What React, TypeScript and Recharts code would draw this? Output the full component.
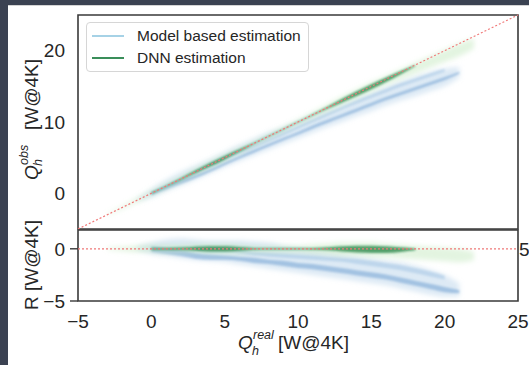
import React from 'react';
import { ComposedChart, Area, XAxis, YAxis, ReferenceLine, ReferenceArea } from 'recharts';

type Band = [number, number, number][];

const xTicks = [-5, 0, 5, 10, 15, 20, 25];
const obsTicks = [0, 10, 20];
const resTicks = [-5, 0];
const legendLabels = ['Model based estimation', 'DNN estimation'];

// ---- top panel: Q_obs vs Q_real, bands [x, low, high]
const obsModelOuter: Band = [
  [-1, -1.1, -0.8], [0, -0.6, 0.6], [1, 0.3, 1.9], [2, 1.1, 3.0], [3, 1.9, 3.9], [4, 2.8, 4.8],
  [5, 3.7, 5.8], [6, 4.5, 6.8], [7, 5.3, 7.7], [8, 6.1, 8.6], [9, 6.9, 9.3], [10, 7.7, 10.1],
  [11, 8.5, 10.9], [12, 9.3, 11.7], [13, 10.0, 12.5], [14, 10.8, 13.3], [15, 11.5, 14.1],
  [16, 12.3, 14.9], [17, 13.0, 15.7], [18, 13.6, 16.4], [19, 14.3, 17.0], [20, 15.0, 17.5], [21, 16.2, 17.7],
];
const obsModelCore: Band = [
  [0, -0.3, 0.2], [1, 0.5, 1.1], [2, 1.3, 1.9], [3, 2.1, 2.6], [4, 3.0, 3.4], [5, 3.95, 4.35],
  [6, 4.85, 5.25], [7, 5.7, 6.1], [8, 6.55, 6.95], [9, 7.4, 7.8], [10, 8.2, 8.6], [11, 9.05, 9.5],
  [12, 9.85, 10.3], [13, 10.65, 11.1], [14, 11.45, 11.9], [15, 12.25, 12.7], [16, 13.05, 13.5],
  [17, 13.75, 14.2], [18, 14.45, 14.9], [19, 15.15, 15.6], [20, 15.85, 16.3], [21, 16.75, 17.05],
];
const obsModelCore2: Band = [
  [3, 2.85, 3.15], [4, 3.75, 4.15], [5, 4.75, 5.15], [6, 5.55, 5.95], [7, 6.35, 6.75], [8, 7.25, 7.65],
  [9, 8.15, 8.55], [10, 9.05, 9.45], [11, 9.95, 10.35], [12, 10.85, 11.25], [13, 11.75, 12.15],
  [14, 12.55, 13.05], [15, 13.35, 13.85], [16, 14.15, 14.65], [17, 14.95, 15.45], [18, 15.65, 16.15],
  [19, 16.35, 16.85], [20, 17.05, 17.45],
];
const obsDnnOuter: Band = [
  [-3, -3.1, -2.9], [-2, -2.2, -1.8], [-1, -1.3, -0.7], [0, -0.3, 0.4], [1, 0.6, 1.4], [2, 1.6, 2.4],
  [3, 2.6, 3.5], [4, 3.5, 4.5], [5, 4.5, 5.5], [6, 5.5, 6.4], [7, 6.6, 7.3], [8, 7.6, 8.3],
  [9, 8.6, 9.3], [10, 9.6, 10.3], [11, 10.5, 11.4], [12, 11.4, 12.5], [13, 12.3, 13.6],
  [14, 13.3, 14.6], [15, 14.2, 15.6], [16, 15.2, 16.5], [17, 16.0, 17.4], [18, 16.8, 18.3],
  [19, 17.6, 19.2], [20, 18.4, 20.1], [21, 19.2, 21.0], [22, 20.3, 21.7],
];
const obsDnnCore: Band = [
  [0, -0.1, 0.1], [1, 0.92, 1.08], [2, 1.88, 2.12], [3, 2.82, 3.2], [4, 3.75, 4.25], [5, 4.75, 5.25],
  [6, 5.82, 6.18], [7, 6.92, 7.08], [8, 7.93, 8.07], [9, 8.93, 9.07], [10, 9.93, 10.07], [11, 10.92, 11.08],
  [12, 11.85, 12.15], [13, 12.75, 13.25], [14, 13.65, 14.3], [15, 14.6, 15.3], [16, 15.6, 16.25],
  [17, 16.7, 17.15], [18, 17.85, 18.0],
];

// ---- bottom panel: residual R vs Q_real
const resModelOuter: Band = [
  [-1, -0.1, 0.2], [0, -0.5, 0.6], [1, -0.7, 0.9], [2, -0.9, 1.0], [3, -1.1, 0.9], [4, -1.2, 0.8],
  [5, -1.3, 0.8], [6, -1.5, 0.8], [7, -1.7, 0.7], [8, -1.9, 0.6], [9, -2.1, 0.3], [10, -2.3, 0.1],
  [11, -2.5, -0.1], [12, -2.7, -0.3], [13, -2.9, -0.5], [14, -3.1, -0.7], [15, -3.3, -0.9],
  [16, -3.5, -1.1], [17, -3.8, -1.3], [18, -4.1, -1.6], [19, -4.4, -2.0], [20, -4.6, -2.5], [21, -4.6, -3.3],
];
const resModelCore: Band = [
  [0, -0.3, 0.25], [1, -0.5, 0.1], [2, -0.7, -0.1], [3, -0.95, -0.4], [4, -1.05, -0.55], [5, -1.05, -0.65],
  [6, -1.15, -0.75], [7, -1.35, -0.85], [8, -1.45, -1.05], [9, -1.65, -1.15], [10, -1.85, -1.35],
  [11, -1.95, -1.45], [12, -2.15, -1.65], [13, -2.35, -1.85], [14, -2.55, -2.05], [15, -2.75, -2.25],
  [16, -2.95, -2.45], [17, -3.25, -2.75], [18, -3.55, -3.05], [19, -3.85, -3.35], [20, -4.15, -3.65], [21, -4.25, -3.95],
];
const resModelCore2: Band = [
  [3, -0.15, 0.15], [4, -0.25, 0.15], [5, -0.25, 0.15], [6, -0.45, -0.05], [7, -0.65, -0.25], [8, -0.75, -0.35],
  [9, -0.85, -0.45], [10, -0.95, -0.55], [11, -1.05, -0.65], [12, -1.15, -0.75], [13, -1.25, -0.85],
  [14, -1.45, -0.95], [15, -1.65, -1.15], [16, -1.85, -1.35], [17, -2.05, -1.55], [18, -2.35, -1.85],
  [19, -2.65, -2.15], [20, -2.95, -2.55],
];
const resDnnOuter: Band = [
  [-3, -0.1, 0.1], [-2, -0.2, 0.2], [-1, -0.3, 0.3], [0, -0.3, 0.4], [1, -0.4, 0.4], [2, -0.4, 0.4],
  [3, -0.4, 0.5], [4, -0.5, 0.5], [5, -0.5, 0.5], [6, -0.5, 0.4], [7, -0.4, 0.3], [8, -0.4, 0.3],
  [9, -0.4, 0.3], [10, -0.4, 0.3], [11, -0.5, 0.4], [12, -0.6, 0.5], [13, -0.7, 0.6], [14, -0.7, 0.6],
  [15, -0.8, 0.6], [16, -0.8, 0.5], [17, -0.9, 0.4], [18, -1.0, 0.3], [19, -1.1, 0.2], [20, -1.2, 0.1],
  [21, -1.3, 0.0], [22, -1.1, -0.3],
];
const resDnnCore: Band = [
  [0, -0.08, 0.08], [1, -0.08, 0.08], [2, -0.12, 0.12], [3, -0.18, 0.2], [4, -0.25, 0.25], [5, -0.25, 0.25],
  [6, -0.18, 0.18], [7, -0.08, 0.08], [8, -0.07, 0.07], [9, -0.07, 0.07], [10, -0.07, 0.07], [11, -0.08, 0.08],
  [12, -0.15, 0.15], [13, -0.25, 0.25], [14, -0.35, 0.3], [15, -0.4, 0.3], [16, -0.4, 0.25],
  [17, -0.3, 0.15], [18, -0.15, 0.03],
];

function mergeBands(bands: Record<string, Band>) {
  const rows = new Map<number, any>();
  for (const [key, band] of Object.entries(bands)) {
    for (const [x, lo, hi] of band) {
      if (!rows.has(x)) rows.set(x, { x });
      rows.get(x)[key] = [lo, hi];
    }
  }
  return [...rows.values()].sort((a, b) => a.x - b.x);
}

const topData = mergeBands({
  mOuter: obsModelOuter, mCore: obsModelCore, mCore2: obsModelCore2, dOuter: obsDnnOuter, dCore: obsDnnCore,
});
const botData = mergeBands({
  mOuter: resModelOuter, mCore: resModelCore, mCore2: resModelCore2, dOuter: resDnnOuter, dCore: resDnnCore,
});

const FONT = '"Liberation Sans", Arial, sans-serif';
const TXT = '#262626';
const FRAME = '#3a3a3a';
const tickStyle = { fontSize: 19, fill: TXT, fontFamily: FONT };

const Filters = ({ p }: { p: string }) => (
  <defs>
    <filter id={`${p}b1`} filterUnits="userSpaceOnUse" x="0" y="0" width="529" height="365">
      <feGaussianBlur stdDeviation="2.6" />
    </filter>
    <filter id={`${p}b2`} filterUnits="userSpaceOnUse" x="0" y="0" width="529" height="365">
      <feGaussianBlur stdDeviation="1.3" />
    </filter>
  </defs>
);

function bands(p: string) {
  return [
    <Area key="mo" dataKey="mOuter" type="monotone" stroke="none" fill="#bcd6ec" fillOpacity={0.5} filter={`url(#${p}b1)`} isAnimationActive={false} dot={false} activeDot={false} />,
    <Area key="mc" dataKey="mCore" type="monotone" stroke="none" fill="#6a9bd0" fillOpacity={0.5} filter={`url(#${p}b2)`} isAnimationActive={false} dot={false} activeDot={false} />,
    <Area key="mc2" dataKey="mCore2" type="monotone" stroke="none" fill="#8cb6dc" fillOpacity={0.38} filter={`url(#${p}b2)`} isAnimationActive={false} dot={false} activeDot={false} />,
    <Area key="do" dataKey="dOuter" type="monotone" stroke="none" fill="#c2e6ba" fillOpacity={0.45} filter={`url(#${p}b1)`} isAnimationActive={false} dot={false} activeDot={false} />,
    <Area key="dc" dataKey="dCore" type="monotone" stroke="none" fill="#1c7f40" fillOpacity={0.72} filter={`url(#${p}b2)`} isAnimationActive={false} dot={false} activeDot={false} />,
  ];
}

const minusFmt = (v: number) => (v < 0 ? `\u2212${Math.abs(v)}` : `${v}`);

export default function App() {
  return (
    <div style={{ position: 'absolute', left: 0, top: 0, width: 529, height: 365, background: '#3b4252', overflow: 'hidden' }}>
      <div style={{ position: 'absolute', left: 8, top: 5, width: 521, height: 360, background: '#ffffff', borderTop: '1px solid #d4d4d4' }} />
      <div style={{ position: 'absolute', left: 0, top: 0 }}>
        <ComposedChart width={529} height={230} data={topData} margin={{ top: 15, right: 11, bottom: 1, left: 18 }}>
          <Filters p="t" />
          <XAxis dataKey="x" type="number" domain={[-5, 25]} ticks={xTicks} hide allowDataOverflow />
          <YAxis type="number" domain={[-5, 25]} ticks={obsTicks} width={60} axisLine={false} tickLine={false}
            tickSize={6} tickMargin={7} tick={tickStyle} allowDataOverflow />
          {bands('t')}
          <ReferenceLine segment={[{ x: -5, y: -5 }, { x: 25, y: 25 }]} stroke="#f07878" strokeDasharray="2 2" strokeWidth={1.2} />
          <ReferenceArea x1={-5} x2={25} y1={-5} y2={25} fill="none" stroke={FRAME} strokeWidth={1.6} fillOpacity={0} />
        </ComposedChart>
      </div>
      <div style={{ position: 'absolute', left: 0, top: 0 }}>
        <ComposedChart width={529} height={365} data={botData} margin={{ top: 230, right: 11, bottom: 34, left: 18 }}>
          <Filters p="b" />
          <XAxis dataKey="x" type="number" domain={[-5, 25]} ticks={xTicks} height={30} axisLine={false} tickLine={false}
            tickSize={6} tickMargin={8} tick={tickStyle} allowDataOverflow tickFormatter={minusFmt} />
          <YAxis type="number" domain={[-5, 1.8]} ticks={resTicks} width={60} axisLine={false}
            tickLine={{ stroke: FRAME, strokeWidth: 1.4 }} tickSize={8} tickMargin={5} tick={tickStyle} allowDataOverflow
            tickFormatter={minusFmt} />
          {bands('b')}
          <ReferenceLine y={0} stroke="#f07878" strokeDasharray="2 2" strokeWidth={1.2}
            label={{ value: '5', position: 'right', offset: 1, fontSize: 19, fill: TXT, fontFamily: FONT }} />
          <ReferenceArea x1={-5} x2={25} y1={-5} y2={1.8} fill="none" stroke={FRAME} strokeWidth={1.6} fillOpacity={0} />
        </ComposedChart>
      </div>
      <svg width={529} height={365} style={{ position: 'absolute', left: 0, top: 0, pointerEvents: 'none' }}>
        <g fontFamily={FONT} fill={TXT}>
          <g transform="translate(38,0) rotate(-90)">
            <text x={-180} y={0} fontSize={19}>
              <tspan fontStyle="italic">Q</tspan>
              <tspan x={-166} dy={4} fontSize={12.5} fontStyle="italic">h</tspan>
              <tspan x={-165} dy={-14} fontSize={12.5} fontStyle="italic">obs</tspan>
              <tspan x={-130} dy={10}>[W@4K]</tspan>
            </text>
            <text x={-265} y={0} fontSize={19} textAnchor="middle">R [W@4K]</text>
          </g>
          <text x={238} y={349} fontSize={19}>
            <tspan fontStyle="italic">Q</tspan>
            <tspan x={252} dy={6} fontSize={12.5} fontStyle="italic">h</tspan>
            <tspan x={253} dy={-16} fontSize={12.5} fontStyle="italic">real</tspan>
            <tspan x={278} dy={10}>[W@4K]</tspan>
          </text>
        </g>
      </svg>
      <div style={{
        position: 'absolute', left: 86, top: 22, width: 223, height: 50, boxSizing: 'border-box',
        border: '1px solid #d6d6d6', borderRadius: 4, background: 'rgba(255,255,255,0.85)', fontFamily: FONT,
      }}>
        {legendLabels.map((lab, i) => (
          <div key={lab} style={{ position: 'absolute', left: 5, top: 3 + i * 22, height: 20, display: 'flex', alignItems: 'center' }}>
            <div style={{ width: 32, height: 2, background: i === 0 ? '#a6d2e6' : '#3a8e5a' }} />
            <span style={{ marginLeft: 13, fontSize: 15.5, color: TXT, whiteSpace: 'nowrap' }}>{lab}</span>
          </div>
        ))}
      </div>
    </div>
  );
}
